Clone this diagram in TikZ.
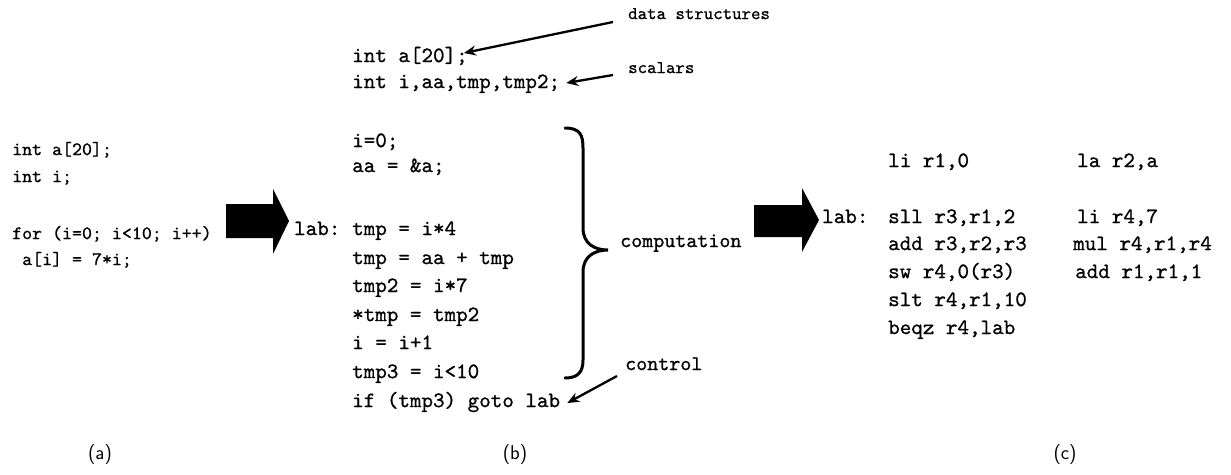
\documentclass[tikz,border=0pt]{standalone}
\usepackage{fontspec}
\usetikzlibrary{arrows.meta}
\newfontfamily\codefont[FakeBold=0.8]{lmmono10-regular.otf}
\tikzset{
  codeA/.style={font=\codefont\fontsize{19}{19}\selectfont, inner sep=0pt,
    text height=0.62em, text depth=0.2em, anchor=west},
  codeB/.style={font=\codefont\fontsize{22}{22}\selectfont, inner sep=0pt,
    text height=0.62em, text depth=0.2em, anchor=west},
  note/.style={font=\codefont\fontsize{18}{18}\selectfont, inner sep=0pt,
    text height=0.62em, text depth=0.2em, anchor=west},
  bignote/.style={font=\codefont\fontsize{21}{21}\selectfont, inner sep=0pt,
    text height=0.62em, text depth=0.2em, anchor=west},
  caption/.style={font=\sffamily\fontsize{20}{20}\selectfont, inner sep=0pt},
  ptr/.style={line width=2.3pt, -{Stealth[length=12pt,width=10pt]}},
  bigarrow/.style={fill=black},
  bracepath/.style={line width=3pt, line cap=round}
}
\begin{document}
\begin{tikzpicture}[x=1pt,y=-1pt]
\useasboundingbox (0,0) rectangle (1231,474);

% (a) source program
\node[codeA] (a1) at (12,153) {int a[20];};
\node[codeA] (a2) at (12,180) {int i;};
\node[codeA] (a3) at (12,237) {for (i=0; i<10; i++)};
\node[codeA] (a4) at (22,263) {a[i] = 7*i;};

% block arrow (a) -> (b)
\fill[bigarrow] (226,204) -- (273,204) -- (273,189) -- (289,221)
  -- (273,254) -- (273,238) -- (226,238) -- cycle;

% (b) intermediate code
\node[codeB] (decl1) at (352,60) {int a[20];};
\node[codeB] (decl2) at (352,86) {int i,aa,tmp,tmp2;};
\node[codeB] (b1) at (352,145) {i=0;};
\node[codeB] (b2) at (352,170) {aa = \&a;};
\node[codeB] (blab) at (294,233) {lab:};
\node[codeB] (b3) at (352,233) {tmp = i*4};
\node[codeB] (b4) at (352,262) {tmp = aa + tmp};
\node[codeB] (b5) at (352,290) {tmp2 = i*7};
\node[codeB] (b6) at (352,319) {*tmp = tmp2};
\node[codeB] (b7) at (352,347) {i = i+1};
\node[codeB] (b8) at (352,376) {tmp3 = i<10};
\node[codeB] (b9) at (352,405) {if (tmp3) goto lab};

% annotations
\node[note] (ds) at (628,17) {data structures};
\node[note] (sc) at (628,71) {scalars};
\node[bignote] (comp) at (620,245) {computation};
\node[bignote] (ctl) at (625,368) {control};

\draw[ptr] ([shift={(-15pt,-5pt)}]ds.west) -- ([shift={(-4pt,7pt)}]decl1.east);
\draw[ptr] ([shift={(-15pt,-4pt)}]sc.west) -- ([shift={(6pt,3pt)}]decl2.east);
\draw[ptr] ([shift={(-8pt,-8pt)}]ctl.west) -- ([shift={(7pt,2pt)}]b9.east);

% brace around the computation statements
\coordinate (brtip) at (608,250);
\draw[bracepath] (565,128) .. controls (580,128) and (583,135) .. (583,148)
  -- (583,228) .. controls (583,244) and (595,250) .. (brtip)
  .. controls (595,250) and (583,256) .. (583,272)
  -- (583,360) .. controls (583,372) and (578,378) .. (565,378);

% block arrow (b) -> (c)
\fill[bigarrow] (754,205) -- (802,205) -- (802,188) -- (819,220)
  -- (802,252) -- (802,237) -- (754,237) -- cycle;

% (c) assembly code
\node[codeB] (c1) at (888,165) {li r1,0};
\node[codeB] (clab) at (822,221) {lab:};
\node[codeB] (c2) at (888,221) {sll r3,r1,2};
\node[codeB] (c3) at (888,248) {add r3,r2,r3};
\node[codeB] (c4) at (888,276) {sw r4,0(r3)};
\node[codeB] (c5) at (888,304) {slt r4,r1,10};
\node[codeB] (c6) at (888,332) {beqz r4,lab};
\node[codeB] (d1) at (1077,165) {la r2,a};
\node[codeB] (d2) at (1077,221) {li r4,7};
\node[codeB] (d3) at (1073,248) {mul r4,r1,r4};
\node[codeB] (d4) at (1075,276) {add r1,r1,1};

% captions
\node[caption] (capa) at (100,455) {(a)};
\node[caption] (capb) at (515,455) {(b)};
\node[caption] (capc) at (1065,455) {(c)};
\end{tikzpicture}
\end{document}
